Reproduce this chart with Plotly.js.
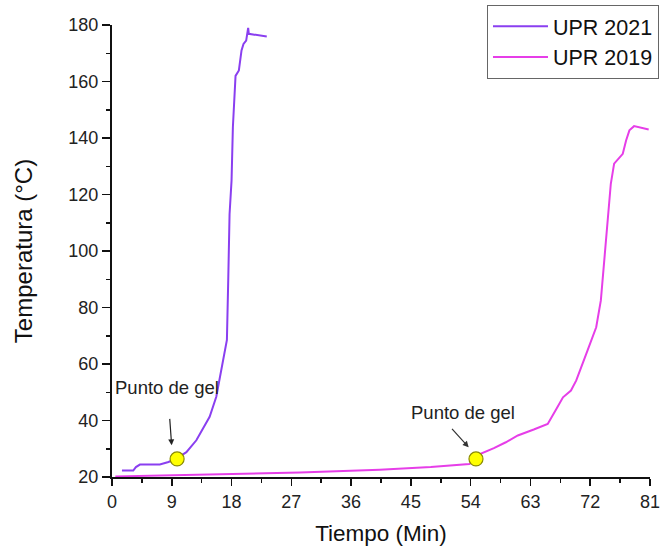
<!DOCTYPE html>
<html>
<head>
<meta charset="utf-8">
<script src="https://cdn.plot.ly/plotly-3.0.1.min.js"></script>
<style>html,body{margin:0;padding:0;background:#fff;}#chart{width:661px;height:550px;}</style>
</head>
<body>
<div id="chart"></div>
<script>
// UPR 2021 series
var time2021 = [1.5, 3.2, 3.6, 4.2, 7.2, 8.5, 9.7, 11.2, 12.7, 13.7, 14.7, 15.7, 16.3, 16.7, 17.1, 17.3, 17.5, 17.7, 18.0, 18.2, 18.6, 19.1, 19.5, 19.8, 20.2, 20.5, 20.6, 23.3];
var temp2021 = [22.3, 22.3, 23.5, 24.4, 24.4, 25.3, 26.5, 28.8, 33.0, 37.2, 41.3, 48.4, 56.0, 62.0, 66.5, 68.5, 89.6, 113.0, 125.0, 143.8, 162.0, 163.9, 171.0, 173.3, 174.5, 179.0, 176.9, 175.9];
// UPR 2019 series
var time2019 = [0.5, 10, 20, 28.3, 40.3, 48, 53.8, 54.8, 55.3, 57.5, 59.3, 61.1, 63.5, 65.6, 66.9, 67.9, 69.1, 69.9, 71.6, 72.9, 73.6, 74.4, 75.1, 75.6, 76.9, 77.4, 77.9, 78.6, 80.8];
var temp2019 = [20.2, 20.6, 21.1, 21.6, 22.6, 23.5, 24.6, 26.3, 28.0, 30.2, 32.3, 34.7, 36.8, 38.8, 44.1, 48.2, 50.6, 54.2, 64.8, 73.0, 82.5, 106.0, 123.8, 130.9, 134.4, 139.1, 142.7, 144.2, 143.0];
// Gel points
var gelTime = [9.8, 54.8];
var gelTemp = [26.4, 26.4];
var gelLabel = "Punto de gel";
var seriesNames = ["UPR 2021", "UPR 2019"];
var xTickVals = [0, 9, 18, 27, 36, 45, 54, 63, 72, 81];
var yTickVals = [20, 40, 60, 80, 100, 120, 140, 160, 180];

var FONT = 'Arial, "Liberation Sans", sans-serif';

var traces = [
  {x: time2021, y: temp2021, name: seriesNames[0], mode: 'lines', line: {color: '#8a3ff0', width: 2}},
  {x: time2019, y: temp2019, name: seriesNames[1], mode: 'lines', line: {color: '#e63ee8', width: 2}},
  {x: gelTime, y: gelTemp, mode: 'markers', showlegend: false, hoverinfo: 'skip',
   marker: {symbol: 'circle', size: 14, color: '#ffff00', line: {color: '#8a8a00', width: 1.2}}}
];

var annotations = [
  {x: 8.98, y: 31.2, xref: 'x', yref: 'y', text: '', showarrow: true, ax: -2, ay: -28,
   arrowhead: 2, arrowsize: 1, arrowwidth: 1.2, arrowcolor: '#222'},
  {x: 8.3, y: 51.7, xref: 'x', yref: 'y', text: gelLabel, showarrow: false,
   font: {family: FONT, size: 18.5, color: '#222'}},
  {x: 53.7, y: 30.5, xref: 'x', yref: 'y', text: '', showarrow: true, ax: -18, ay: -20,
   arrowhead: 2, arrowsize: 1, arrowwidth: 1.2, arrowcolor: '#333'},
  {x: 52.9, y: 43.0, xref: 'x', yref: 'y', text: gelLabel, showarrow: false,
   font: {family: FONT, size: 18.5, color: '#222'}}
];

var layout = {
  width: 661, height: 550,
  paper_bgcolor: '#fff', plot_bgcolor: '#fff',
  font: {family: FONT, color: '#222'},
  margin: {l: 112, r: 11, t: 25, b: 73, autoexpand: false},
  showlegend: true,
  legend: {x: 0.697, y: 1.045, xanchor: 'left', yanchor: 'top', bgcolor: 'rgba(255,255,255,1)',
    bordercolor: '#666', borderwidth: 1, font: {family: FONT, size: 21.5, color: '#111'}, itemwidth: 55,
    tracegroupgap: 0},
  xaxis: {range: [0, 81], tickvals: xTickVals, showgrid: false, zeroline: false,
    showline: true, linecolor: '#111', linewidth: 2, ticks: 'outside', ticklen: 7, tickwidth: 1.5, tickcolor: '#111',
    tickfont: {family: FONT, size: 18, color: '#222'},
    minor: {dtick: 4.5, tick0: 0, ticks: 'outside', ticklen: 4, tickwidth: 1.5, tickcolor: '#111', showgrid: false},
    title: {text: 'Tiempo (Min)', font: {family: FONT, size: 22.5, color: '#111'}, standoff: 15}},
  yaxis: {range: [20, 180], tickvals: yTickVals, showgrid: false, zeroline: false,
    showline: true, linecolor: '#111', linewidth: 2, ticks: 'outside', ticklen: 8, tickwidth: 1.5, tickcolor: '#111',
    tickfont: {family: FONT, size: 18, color: '#222'},
    minor: {dtick: 10, tick0: 20, ticks: 'outside', ticklen: 4, tickwidth: 1.5, tickcolor: '#111', showgrid: false},
    title: {text: 'Temperatura (°C)', font: {family: FONT, size: 24, color: '#111'}, standoff: 29}},
  annotations: annotations
};

Plotly.newPlot('chart', traces, layout, {displayModeBar: false, staticPlot: true});
</script>
</body>
</html>
